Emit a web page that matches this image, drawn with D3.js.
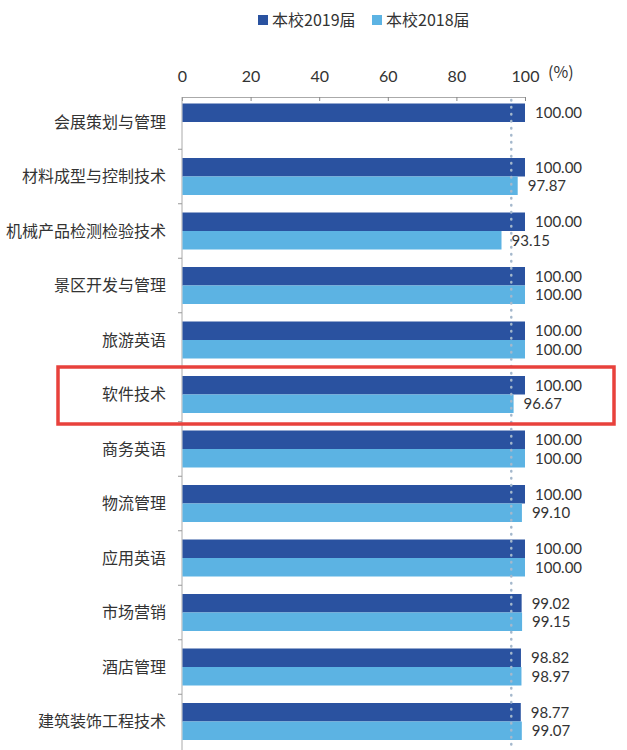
<!DOCTYPE html>
<html>
<head>
<meta charset="utf-8">
<script src="https://cdn.jsdelivr.net/npm/d3@7"></script>
<style>
  body { margin: 0; background: #fff; }
  text { font-family: "Noto Sans CJK SC", "Microsoft YaHei", sans-serif; fill: #333; }
  .num { font-family: Lato, "Open Sans", sans-serif; }
</style>
</head>
<body>
<script>
// categories and values
const majors = ["会展策划与管理", "材料成型与控制技术", "机械产品检测检验技术", "景区开发与管理",
  "旅游英语", "软件技术", "商务英语", "物流管理", "应用英语", "市场营销", "酒店管理", "建筑装饰工程技术"];
const v2019 = [100.00, 100.00, 100.00, 100.00, 100.00, 100.00, 100.00, 100.00, 100.00, 99.02, 98.82, 98.77];
const v2018 = [null, 97.87, 93.15, 100.00, 100.00, 96.67, 100.00, 99.10, 100.00, 99.15, 98.97, 99.07];
const seriesNames = ["本校2019届", "本校2018届"];
const xTicks = [0, 20, 40, 60, 80, 100];
const refValue = 96; // dotted reference line
const highlight = "软件技术";

const width = 627, height = 750;
const colors = ["#2a52a0", "#5cb3e3"];

const svg = d3.select("body").append("svg")
    .attr("width", width)
    .attr("height", height);

const x = d3.scaleLinear().domain([0, 100]).range([182, 525]);
const y = d3.scaleBand().domain(majors).range([94.75, 94.75 + 54.5 * majors.length]);
const sub = d3.scaleBand().domain(seriesNames).range([0, 37]);
const barTop = (y.bandwidth() - sub.range()[1]) / 2;

// legend
const legend = svg.append("g").attr("transform", "translate(258,20)");
const li = legend.selectAll("g").data(seriesNames).join("g")
    .attr("transform", (d, i) => `translate(${i * 114},0)`);
li.append("rect").attr("x", 0).attr("y", -5).attr("width", 10).attr("height", 10)
    .attr("fill", (d, i) => colors[i]);
li.append("text").attr("x", 14).attr("dy", "0.35em")
    .style("font-size", "16px").text(d => d);

// top axis
const axis = svg.append("g").attr("transform", "translate(0,97)")
    .call(d3.axisTop(x).tickValues(xTicks).tickSize(-4).tickPadding(15));
axis.select(".domain").attr("stroke", "#aaa");
axis.selectAll(".tick line").attr("stroke", "#888");
axis.selectAll(".tick text").attr("class", "num").style("font-size", "16px").attr("fill", "#333")
    .attr("font-family", null);
svg.append("text").attr("x", 548).attr("y", 78).style("font-size", "16px").text("(%)");

// left axis line with ticks at band boundaries
svg.append("line").attr("x1", x(0)).attr("x2", x(0)).attr("y1", 97).attr("y2", height)
    .attr("stroke", "#aaa");
svg.append("g").selectAll("line").data(majors.slice(1)).join("line")
    .attr("x1", x(0) - 4).attr("x2", x(0))
    .attr("y1", d => y(d)).attr("y2", d => y(d))
    .attr("stroke", "#999");

// bars
const rows = svg.append("g").selectAll("g").data(majors).join("g")
    .attr("transform", d => `translate(0,${y(d) + barTop})`);

[v2019, v2018].forEach((vals, s) => {
  rows.filter((d, i) => vals[i] != null).append("rect")
      .attr("x", x(0) + 0.5)
      .attr("y", sub(seriesNames[s]))
      .attr("height", sub.bandwidth())
      .attr("width", d => x(vals[majors.indexOf(d)]) - x(0) - 0.5)
      .attr("fill", colors[s]);
  rows.filter((d, i) => vals[i] != null).append("text")
      .attr("class", "num")
      .attr("x", d => x(vals[majors.indexOf(d)]) + 10)
      .attr("y", sub(seriesNames[s]) + sub.bandwidth() / 2)
      .attr("dy", "0.35em")
      .style("font-size", "15px")
      .text(d => vals[majors.indexOf(d)].toFixed(2));
});

// category labels
rows.append("text")
    .attr("x", 166)
    .attr("y", sub.range()[1] / 2)
    .attr("dy", "0.35em")
    .attr("text-anchor", "end")
    .style("font-size", "16px")
    .text(d => d);

// dotted reference line
svg.append("line")
    .attr("x1", x(refValue)).attr("x2", x(refValue))
    .attr("y1", 100).attr("y2", height)
    .attr("stroke", "#a4b8cc").attr("stroke-width", 2.5)
    .attr("stroke-linecap", "round")
    .attr("stroke-dasharray", "0.5,6.5");

// highlight box
svg.append("rect")
    .attr("x", 58).attr("y", y(highlight) + barTop - 9)
    .attr("width", 556).attr("height", sub.range()[1] + 20)
    .attr("fill", "none").attr("stroke", "#e8413c").attr("stroke-width", 3.5);
</script>
</body>
</html>
